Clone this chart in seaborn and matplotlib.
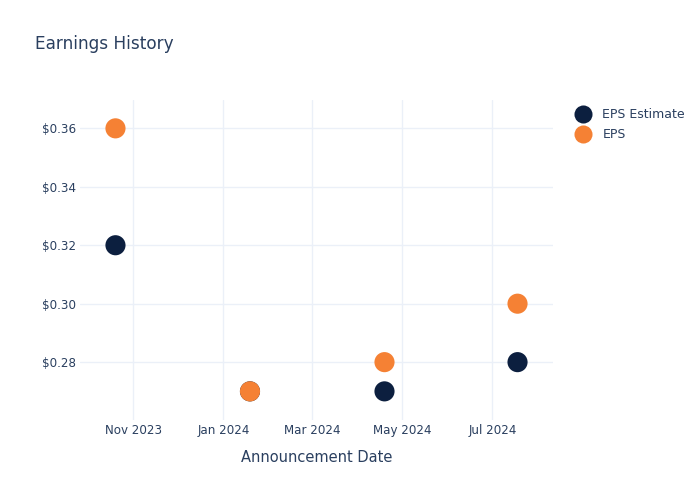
import matplotlib
matplotlib.use("Agg")
import matplotlib.pyplot as plt
import matplotlib.dates as mdates
import matplotlib.ticker as mticker
import seaborn as sns
import pandas as pd

dates = ["2023-10-20", "2024-01-19", "2024-04-19", "2024-07-18"]
eps_estimate = [0.32, 0.27, 0.27, 0.28]
eps_actual = [0.36, 0.27, 0.28, 0.30]
series_names = ["EPS Estimate", "EPS"]
colors = ["#0C1F3F", "#F58134"]

df = pd.DataFrame({
    "date": pd.to_datetime(dates * 2),
    "value": eps_estimate + eps_actual,
    "series": [series_names[0]] * len(dates) + [series_names[1]] * len(dates),
})

sns.set_theme(style="white")
text_color = "#2a3f5f"
plt.rcParams["font.family"] = ["DejaVu Sans"]

fig = plt.figure(figsize=(7, 5), dpi=100)
ax = fig.add_axes([80/700, 1-420/500, (553-80)/700, (420-100)/500])

sns.scatterplot(data=df, x="date", y="value", hue="series",
                palette=dict(zip(series_names, colors)), hue_order=series_names,
                s=210, linewidth=0, ax=ax, zorder=3)

ax.set_xlim(pd.Timestamp("2023-09-26"), pd.Timestamp("2024-08-11"))
ax.set_ylim(0.2602, 0.3697)
ax.xaxis.set_major_locator(mdates.MonthLocator(bymonth=[1, 3, 5, 7, 9, 11]))
ax.xaxis.set_major_formatter(mdates.DateFormatter("%b %Y"))
ax.yaxis.set_major_locator(mticker.MultipleLocator(0.02))
ax.yaxis.set_major_formatter(mticker.FuncFormatter(lambda v, p: f"${v:.2f}"))

ax.grid(True, color="#EBF0F8", linewidth=1, zorder=0)
for s in ax.spines.values():
    s.set_visible(False)
ax.tick_params(axis="x", length=0, labelsize=8.6, colors=text_color, pad=3)
ax.tick_params(axis="y", length=0, labelsize=8.6, colors=text_color, pad=3)
ax.set_xlabel("Announcement Date", fontsize=10.5, color=text_color, labelpad=9)
ax.set_ylabel("")

fig.text(35/700, 1-44/500, "Earnings History", fontsize=12.2, color=text_color,
         va="center", ha="left")

leg = ax.legend(loc="upper left", bbox_to_anchor=((565-80)/473, 1.0 - 3/320),
                frameon=False, fontsize=9, labelcolor=text_color,
                handletextpad=0.6, labelspacing=0.55, markerscale=1.0,
                borderaxespad=0)
for h in leg.legend_handles:
    if hasattr(h, "set_markersize"):
        h.set_markersize(13)

fig.savefig("out.png", dpi=100)
